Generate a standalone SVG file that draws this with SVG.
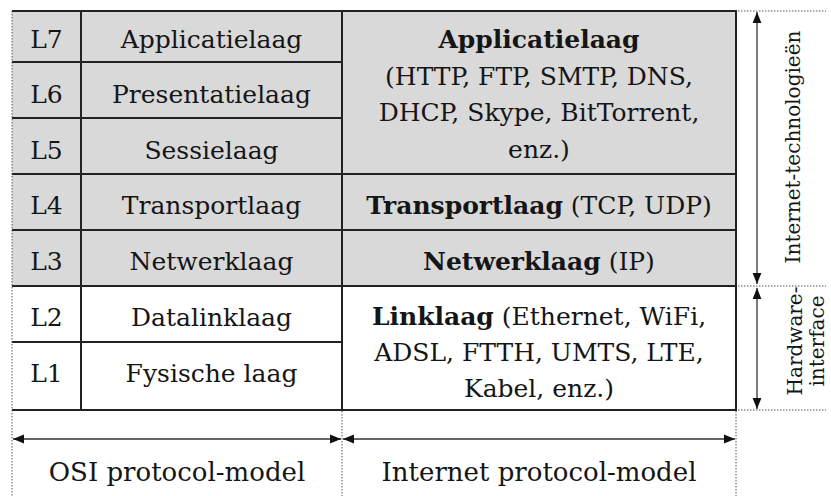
<svg xmlns="http://www.w3.org/2000/svg" width="831" height="496" viewBox="0 0 831 496">
<style>
.t{font-family:"DejaVu Serif","Liberation Serif",serif;font-size:25px;fill:#151515;text-anchor:middle}
.b{font-weight:bold}
.s{font-size:20px}
.m{font-size:26px}
.cell{stroke:#222;stroke-width:2}
.g{fill:#d9d9d9}
.dot{stroke:#555;stroke-width:1;stroke-dasharray:1.5 1.5;fill:none}
.ar{stroke:#333;stroke-width:1.3;fill:none}
</style>
<defs>
<marker id="ah" viewBox="0 0 10 10" refX="10" refY="5" markerWidth="11" markerHeight="11" markerUnits="userSpaceOnUse" orient="auto-start-reverse">
<path d="M0,1 L10,5 L0,9 Z" fill="#111"/>
</marker>
</defs>
<rect width="831" height="496" fill="#fff"/>
<g id="internet-group-bg">
<rect x="12" y="11" width="724" height="275" class="g"/>
</g>
<g id="osi-L7"><text class="t" x="46.5" y="48">L7</text><text class="t" x="211.5" y="48">Applicatielaag</text></g>
<g id="osi-L6"><text class="t" x="46.5" y="103">L6</text><text class="t" x="211.5" y="103">Presentatielaag</text></g>
<g id="osi-L5"><text class="t" x="46.5" y="159">L5</text><text class="t" x="211.5" y="159">Sessielaag</text></g>
<g id="osi-L4"><text class="t" x="46.5" y="214">L4</text><text class="t" x="211.5" y="214">Transportlaag</text></g>
<g id="osi-L3"><text class="t" x="46.5" y="270">L3</text><text class="t" x="211.5" y="270">Netwerklaag</text></g>
<g id="osi-L2"><text class="t" x="46.5" y="326">L2</text><text class="t" x="211.5" y="326">Datalinklaag</text></g>
<g id="osi-L1"><text class="t" x="46.5" y="382">L1</text><text class="t" x="211.5" y="382">Fysische laag</text></g>
<g id="inet-app">
<text class="t b" x="539" y="48">Applicatielaag</text>
<text class="t" x="539" y="85">(HTTP, FTP, SMTP, DNS,</text>
<text class="t" x="539" y="121">DHCP, Skype, BitTorrent,</text>
<text class="t" x="539" y="158">enz.)</text>
</g>
<g id="inet-transport"><text class="t" x="539" y="214"><tspan class="b">Transportlaag</tspan> (TCP, UDP)</text></g>
<g id="inet-network"><text class="t" x="539" y="270"><tspan class="b">Netwerklaag</tspan> (IP)</text></g>
<g id="inet-link">
<text class="t" x="539" y="325"><tspan class="b">Linklaag</tspan> (Ethernet, WiFi,</text>
<text class="t" x="539" y="361">ADSL, FTTH, UMTS, LTE,</text>
<text class="t" x="539" y="397">Kabel, enz.)</text>
</g>
<g id="grid" class="cell" fill="none">
<line x1="12" y1="11" x2="737" y2="11"/>
<line x1="12" y1="62" x2="342" y2="62"/>
<line x1="12" y1="118" x2="342" y2="118"/>
<line x1="12" y1="174" x2="737" y2="174"/>
<line x1="12" y1="230" x2="737" y2="230"/>
<line x1="12" y1="286" x2="737" y2="286"/>
<line x1="12" y1="342" x2="342" y2="342"/>
<line x1="12" y1="410" x2="737" y2="410"/>
<line x1="81" y1="11" x2="81" y2="410"/>
<line x1="342" y1="11" x2="342" y2="410"/>
<line x1="736" y1="11" x2="736" y2="410"/>
</g>
<g id="guides" class="dot">
<line x1="12" y1="11" x2="12" y2="496"/>
<line x1="342" y1="411" x2="342" y2="496"/>
<line x1="736" y1="411" x2="736" y2="496"/>
<line x1="738" y1="11" x2="826" y2="11"/>
<line x1="738" y1="286" x2="826" y2="286"/>
<line x1="738" y1="410" x2="826" y2="410"/>
</g>
<g id="connectors" class="ar">
<line x1="757" y1="12" x2="757" y2="284" marker-start="url(#ah)" marker-end="url(#ah)"/>
<line x1="757" y1="288" x2="757" y2="409" marker-start="url(#ah)" marker-end="url(#ah)"/>
<line x1="13" y1="439" x2="341" y2="439" marker-start="url(#ah)" marker-end="url(#ah)"/>
<line x1="343" y1="439" x2="735" y2="439" marker-start="url(#ah)" marker-end="url(#ah)"/>
</g>
<g id="label-internet-tech"><text class="t s" transform="translate(800,147) rotate(-90)">Internet-technologieën</text></g>
<g id="label-hardware"><text class="t s" transform="translate(802,341) rotate(-90)">Hardware-</text><text class="t s" transform="translate(824,341) rotate(-90)">interface</text></g>
<g id="label-osi"><text class="t m" x="177" y="481">OSI protocol-model</text></g>
<g id="label-inet"><text class="t m" x="539" y="481">Internet protocol-model</text></g>
</svg>
